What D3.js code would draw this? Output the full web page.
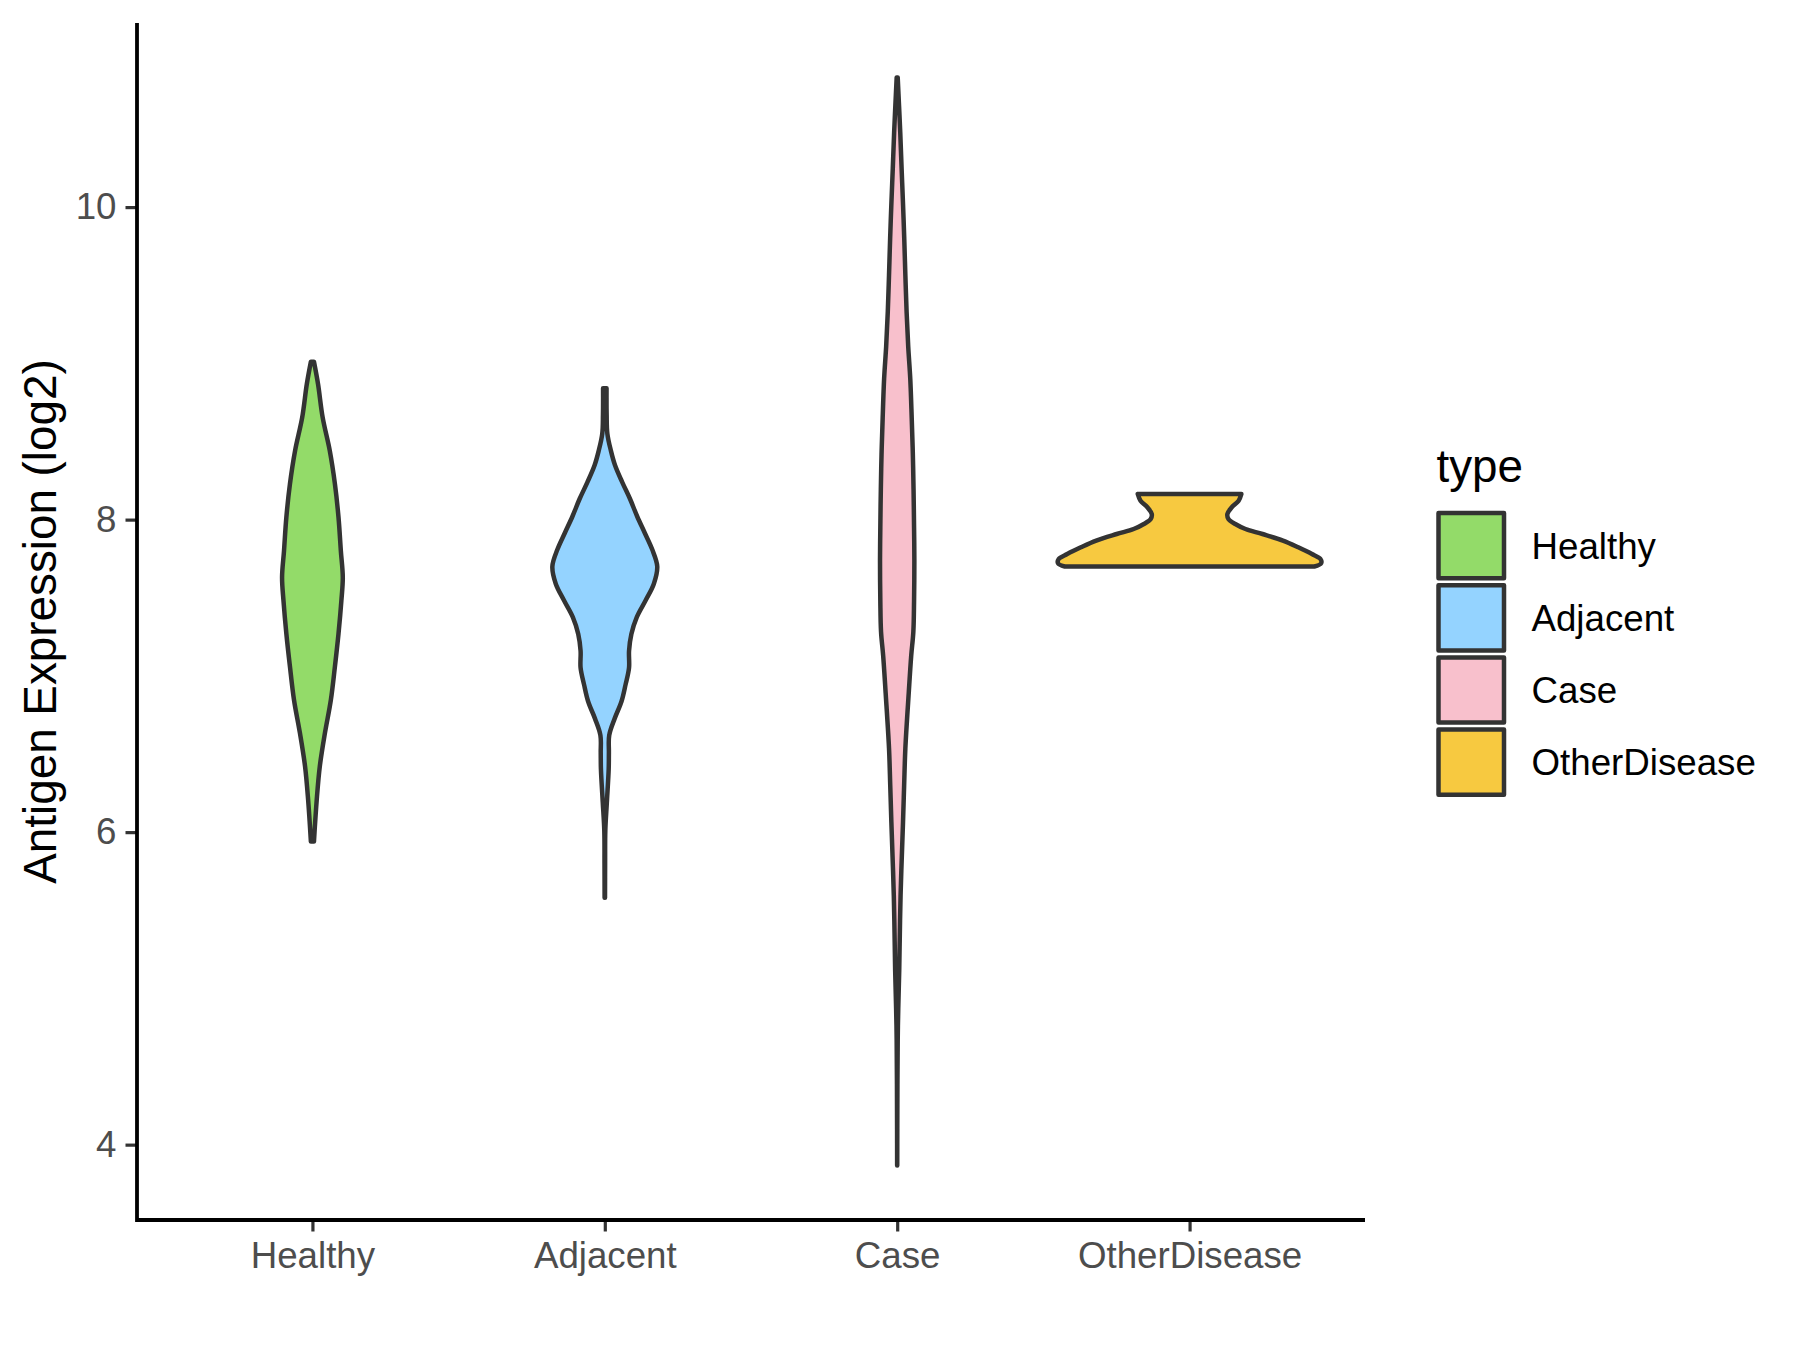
<!DOCTYPE html>
<html>
<head>
<meta charset="utf-8">
<script src="https://cdn.jsdelivr.net/npm/d3@7"></script>
<style>
  html, body { margin: 0; padding: 0; background: #ffffff; }
  svg { display: block; }
  text { font-family: "Liberation Sans", Arial, Helvetica, sans-serif; }
</style>
</head>
<body>
<svg id="chart" width="1800" height="1350"></svg>
<script>
// ---------------- data ----------------
const categories = ["Healthy", "Adjacent", "Case", "OtherDisease"];
const fillColors = ["#93DB69", "#94D3FF", "#F8C0CC", "#F7C940"];
const yTicks = [4, 6, 8, 10];
const legendTitle = "type";
const yTitle = "Antigen Expression (log2)";

// violin outlines: expression value and (relative) density
const healthyValues  = [9.01, 8.867, 8.654, 8.44, 8.228, 8.015, 7.80, 7.631, 7.48, 7.27, 7.06, 6.845, 6.633, 6.42, 6.206, 5.94];
const healthyDensity = [1.5, 5.5, 10, 17, 22, 25.5, 27.8, 29.7, 28.3, 25.5, 22, 18, 12.2, 7.2, 4.2, 1.5];

const adjacentValues  = [8.84, 8.672, 8.55, 8.44, 8.348, 8.24, 8.132, 8.02, 7.916, 7.81, 7.70, 7.59, 7.484, 7.376, 7.268, 7.16, 7.052, 6.944, 6.836, 6.728, 6.62, 6.51, 6.404, 6.19, 6.01, 5.8, 5.58];
const adjacentDensity = [1.7, 1.8, 2.5, 6, 10, 17, 24.7, 31.7, 39, 46.3, 51.3, 48, 40, 31.3, 26, 23.7, 23.7, 20.3, 16.3, 9.7, 4.3, 4, 3.8, 2, 0.5, 0.3, 0.2];

const caseValues  = [10.83, 10.65, 10.477, 10.25, 10.02, 9.8, 9.564, 9.33, 9.107, 8.9, 8.651, 8.42, 8.194, 7.95, 7.738, 7.48, 7.282, 7.128, 6.891, 6.537, 6.3, 6.064, 5.591, 5.118, 4.76, 4.41, 4.1, 3.866];
const caseDensity = [0.5, 1.8, 3, 4.3, 5.7, 6.9, 8, 9.2, 10.8, 12.8, 14.2, 15.3, 16, 16.5, 16.8, 16.5, 15.8, 13.7, 11.3, 8, 6.8, 5.7, 3.3, 2, 0.7, 0.25, 0.1, 0.05];

const otherValues  = [8.164, 8.121, 8.079, 8.036, 8.004, 7.972, 7.94, 7.908, 7.866, 7.823, 7.78, 7.748, 7.721, 7.70];
const otherDensity = [50.7, 48, 41.3, 37, 38, 44.7, 54.7, 71.3, 91.3, 106.3, 119.7, 128, 128.7, 122];

const violinValues  = [healthyValues, adjacentValues, caseValues, otherValues];
const violinDensity = [healthyDensity, adjacentDensity, caseDensity, otherDensity];

// ---------------- layout ----------------
const panel = { left: 137, right: 1365, top: 23, bottom: 1220 };
const svg = d3.select("#chart");

const allVals = violinValues.flat();
const vMin = d3.min(allVals), vMax = d3.max(allVals);
const pad = (vMax - vMin) * 0.05;

const y = d3.scaleLinear().domain([vMin - pad, vMax + pad]).range([panel.bottom, panel.top]);
const x = d3.scalePoint().domain(categories).range([panel.left, panel.right]).padding(0.6);
const color = d3.scaleOrdinal().domain(categories).range(fillColors);

const maxD = d3.max(violinDensity.flat());
const w = d3.scaleLinear().domain([0, maxD]).range([0, 0.45 * x.step()]);

// ---------------- violins ----------------
categories.forEach((cat, i) => {
  const pts = violinValues[i].map((v, j) => ({ v: v, d: violinDensity[i][j] }));
  const cx = x(cat);
  const area = d3.area()
    .y(d => y(d.v))
    .x0(d => cx - w(d.d))
    .x1(d => cx + w(d.d))
    .curve(d3.curveCatmullRom.alpha(0.5));
  svg.append("path")
    .attr("d", area(pts))
    .attr("fill", color(cat))
    .attr("stroke", "#333333")
    .attr("stroke-width", 4.5)
    .attr("stroke-linejoin", "round");
});

// ---------------- axes ----------------
const yAxis = d3.axisLeft(y).tickValues(yTicks).tickSize(11.5).tickSizeOuter(0).tickPadding(9).tickFormat(d3.format("d"));
const gy = svg.append("g").attr("transform", `translate(${panel.left},0)`).call(yAxis);
const xAxis = d3.axisBottom(x).tickSize(11.5).tickSizeOuter(0).tickPadding(10);
const gx = svg.append("g").attr("transform", `translate(0,${panel.bottom})`).call(xAxis);

[gx, gy].forEach(g => {
  g.select(".domain").remove();
  g.selectAll(".tick line").attr("stroke", "#333333").attr("stroke-width", 3.2);
  g.selectAll(".tick text")
    .attr("fill", "#4D4D4D")
    .style("font-size", "36.7px")
    .style("font-family", "'Liberation Sans', Arial, sans-serif");
});

// axis lines
svg.append("path")
  .attr("d", d3.line()([[panel.left, panel.top], [panel.left, panel.bottom], [panel.right, panel.bottom]]))
  .attr("fill", "none")
  .attr("stroke", "#000000")
  .attr("stroke-width", 3.8)
  .attr("stroke-linecap", "butt")
  .attr("stroke-linejoin", "miter");

// y axis title
svg.append("text")
  .attr("transform", `translate(56,${(panel.top + panel.bottom) / 2}) rotate(-90)`)
  .attr("text-anchor", "middle")
  .attr("fill", "#000000")
  .style("font-size", "45.8px")
  .text(yTitle);

// ---------------- legend ----------------
const legend = svg.append("g");
legend.append("text")
  .attr("x", 1436.5)
  .attr("y", 482)
  .attr("fill", "#000000")
  .style("font-size", "45.8px")
  .text(legendTitle);

const keySize = 72.2;
const keyTop = 509.5;
categories.forEach((cat, i) => {
  const ky = keyTop + i * keySize;
  legend.append("rect")
    .attr("x", 1438.5)
    .attr("y", ky + 3.5)
    .attr("width", 65.5)
    .attr("height", 65.2)
    .attr("fill", color(cat))
    .attr("stroke", "#333333")
    .attr("stroke-width", 4.5)
    .attr("stroke-linejoin", "round");
  legend.append("text")
    .attr("x", 1531.5)
    .attr("y", ky + keySize / 2 + 0.358 * 36.7)
    .attr("fill", "#000000")
    .style("font-size", "36.7px")
    .text(cat);
});
</script>
</body>
</html>
